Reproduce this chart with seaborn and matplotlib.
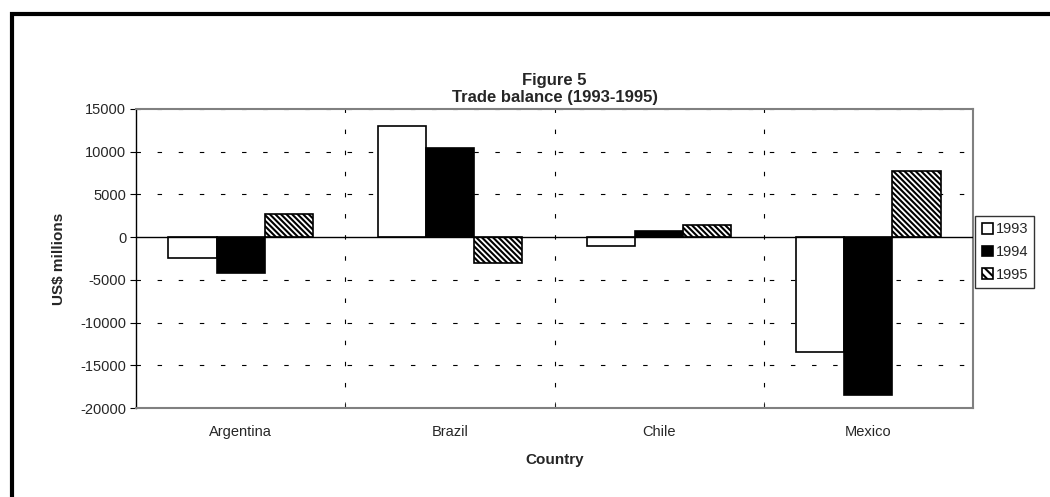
import matplotlib
matplotlib.use("Agg")
import matplotlib.pyplot as plt
import seaborn as sns
import pandas as pd
from matplotlib.patches import Rectangle

# Trade balance, US$ millions
countries = ["Argentina", "Brazil", "Chile", "Mexico"]
years = ["1993", "1994", "1995"]
bal_1993 = [-2450, 13000, -1050, -13450]
bal_1994 = [-4150, 10450, 700, -18500]
bal_1995 = [2700, -3050, 1470, 7750]

df = pd.DataFrame({
    "Country": countries * 3,
    "Year": [y for y in years for _ in countries],
    "Value": bal_1993 + bal_1994 + bal_1995,
})

sns.set_style("white")
plt.rcParams["font.family"] = ["Liberation Sans", "DejaVu Sans"]
plt.rcParams["axes.unicode_minus"] = False
plt.rcParams["hatch.linewidth"] = 1.5

fig = plt.figure(figsize=(10.5, 4.97), dpi=100)
ax = fig.add_axes([136 / 1050, 1 - 408 / 497, (973 - 136) / 1050, (408 - 109) / 497])

sns.barplot(data=df, x="Country", y="Value", hue="Year", ax=ax,
            palette=["white", "black", "white"], edgecolor="black",
            linewidth=1.2, width=0.69, saturation=1, legend=True)

hatch = "\\\\\\\\\\\\"
for bar in ax.containers[2]:
    bar.set_hatch(hatch)

ax.set_ylim(-20000, 15000)
ax.set_xlim(-0.5, 3.5)
ax.set_yticks(range(-20000, 15001, 5000))
ax.tick_params(axis="y", labelsize=10.5, length=4, direction="out", left=True,
               color="black", pad=3)
ax.tick_params(axis="x", which="major", labelsize=10.5, length=0, pad=12)
ax.set_xticks([0.5, 1.5, 2.5], minor=True)
ax.tick_params(axis="x", which="minor", length=4, direction="in", bottom=True)

for y in range(-15000, 15001, 5000):
    if y != 0:
        ax.axhline(y, color="black", lw=0.8, ls=(0, (4, 15)), zorder=0)
for x in [0.5, 1.5, 2.5]:
    ax.axvline(x, color="black", lw=0.8, ls=(0, (4, 15)), zorder=0)
ax.axhline(0, color="black", lw=1, zorder=3)

for side in ["top", "right", "bottom"]:
    ax.spines[side].set_color("#808080")
    ax.spines[side].set_linewidth(1.5)
ax.spines["left"].set_color("black")
ax.spines["left"].set_linewidth(1)

ax.set_xlabel("Country", fontsize=11, fontweight="bold", labelpad=10)
ax.set_ylabel(r"US\$ millions", fontsize=11, fontweight="bold", labelpad=10)
ax.set_title("Figure 5\nTrade balance (1993-1995)", fontsize=12,
             fontweight="bold", pad=5, linespacing=1.2)

leg = ax.legend(loc="center left", bbox_to_anchor=(975 / 1050, 1 - 252 / 497),
                bbox_transform=fig.transFigure, fontsize=10.5, frameon=True,
                fancybox=False, edgecolor="black", handlelength=0.75,
                handleheight=0.75, handletextpad=0.2, borderpad=0.45,
                labelspacing=0.6, borderaxespad=0)
leg.get_frame().set_linewidth(1)
leg.legend_handles[2].set_hatch("\\\\\\\\")

# outer frame
fig.patches.append(Rectangle((12 / 1050, -0.2), 1.2, 1.2 - 14 / 497,
                             transform=fig.transFigure, fill=False,
                             edgecolor="black", linewidth=3))

fig.savefig("out.png", dpi=100)
